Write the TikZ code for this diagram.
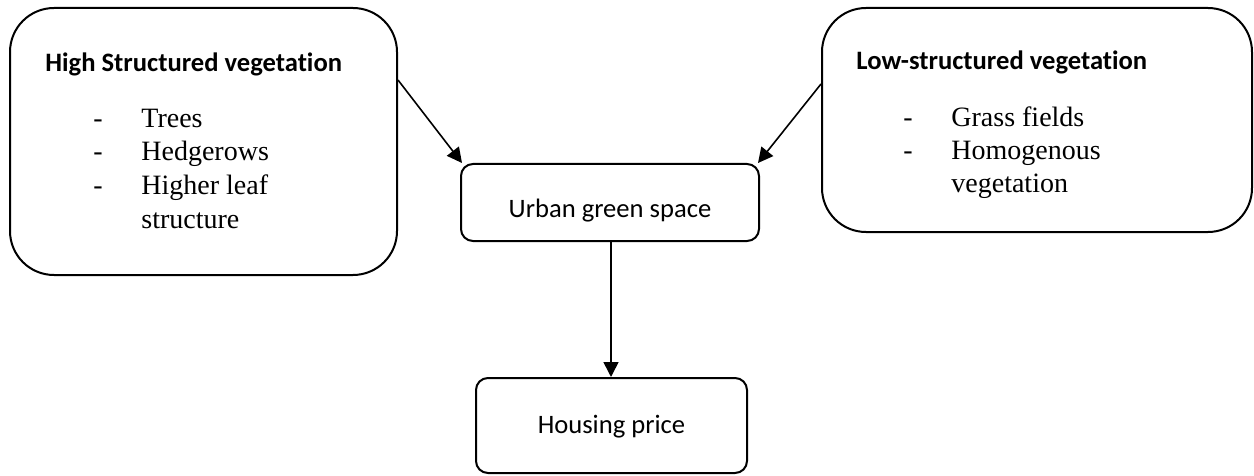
\documentclass[tikz,border=0pt]{standalone}
\usepackage{fontspec}
\setmainfont{Liberation Serif}
\newfontfamily\calib[Ligatures={NoCommon}]{Carlito}
\usetikzlibrary{arrows.meta}
\tikzset{
  bigbox/.style={draw, line width=1pt, rounded corners=22pt, inner sep=0pt},
  smallbox/.style={draw, line width=1pt, rounded corners=6pt, inner sep=0pt},
  head/.style={font=\calib\bfseries\fontsize{13.3}{15}\selectfont, anchor=base west, inner sep=0pt},
  item/.style={font=\fontsize{14}{16}\selectfont, anchor=base west, inner sep=0pt},
  lbl/.style={font=\calib\fontsize{13.3}{15}\selectfont, anchor=base, inner sep=0pt},
  arr/.style={line width=0.8pt, -{Triangle[length=7.5pt,width=7.5pt]}}
}
\begin{document}
\begin{tikzpicture}[x=0.5pt,y=-0.5pt]
\useasboundingbox (0,0) rectangle (1254,476);
% boxes
\node[bigbox, minimum width=193.5pt, minimum height=133.5pt] (hs) at (203.5,141.5) {};
\node[bigbox, minimum width=215pt, minimum height=112pt] (ls) at (1037,120) {};
\node[smallbox, minimum width=149pt, minimum height=38.5pt] (ugs) at (610,202.5) {};
\node[smallbox, minimum width=135.5pt, minimum height=47.5pt] (hp) at (611.5,425.5) {};
% left texts
\node[head] (hst) at (45,72) {High Structured vegetation};
\node[item] (d1) at (93,128) {-};
\node[item] (d2) at (93,161) {-};
\node[item] (d3) at (93,194) {-};
\node[item] (t1) at (141,128) {Trees};
\node[item] (t2) at (141,161) {Hedgerows};
\node[item] (t3) at (141,194) {Higher leaf};
\node[item] (t4) at (141,228) {structure};
% right texts
\node[head] (lst) at (856,70) {Low-structured vegetation};
\node[item] (e1) at (903,127) {-};
\node[item] (e2) at (903,160) {-};
\node[item] (r1) at (951,127) {Grass fields};
\node[item] (r2) at (951,160) {Homogenous};
\node[item] (r3) at (951,192) {vegetation};
% centre labels
\node[lbl] (ugst) at (610,218) {Urban green space};
\node[lbl] (hpt) at (611.5,433) {Housing price};
% connectors
\coordinate (hsout) at (hs.east |- 0,80);
\coordinate (lsout) at (ls.west |- 0,84);
\coordinate (ugsl) at ([xshift=1pt]ugs.north west);
\coordinate (ugsr) at ([xshift=-1pt]ugs.north east);
\draw[arr] (hsout) -- (ugsl);
\draw[arr] (lsout) -- (ugsr);
\draw[arr] (ugs.south |- ugs.south) ++(1,0) coordinate (ugsb) -- (ugsb |- hp.north);
\end{tikzpicture}
\end{document}
